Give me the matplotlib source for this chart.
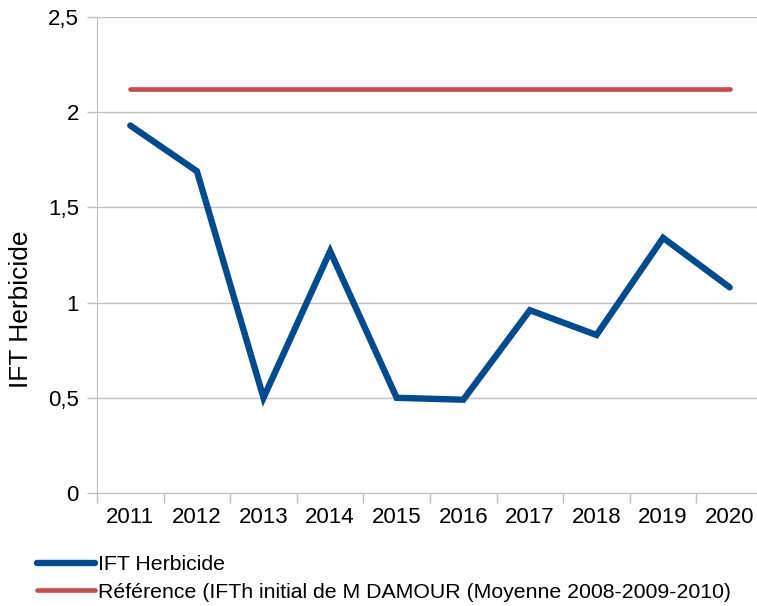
import matplotlib.pyplot as plt
from matplotlib.ticker import FixedLocator

plt.rcParams['font.family'] = ['Liberation Sans', 'DejaVu Sans']

years = ['2011', '2012', '2013', '2014', '2015', '2016', '2017', '2018', '2019', '2020']
ift_herbicide = [1.93, 1.69, 0.50, 1.27, 0.50, 0.49, 0.96, 0.83, 1.34, 1.08]
reference = [2.12] * len(years)
yticks = [0, 0.5, 1, 1.5, 2, 2.5]
ytick_labels = ['0', '0,5', '1', '1,5', '2', '2,5']

BLUE = '#004b8d'
RED = '#c0504d'
GRID = '#bfbfbf'

fig = plt.figure(figsize=(7.57, 6.06), dpi=100)
# plot area runs slightly off the right edge, as in the original
ax = fig.add_axes([97 / 757, 1 - 493 / 606, 666 / 757, 476 / 606])

x = list(range(len(years)))
ax.plot(x, ift_herbicide, color=BLUE, lw=4.6, solid_capstyle='round',
        solid_joinstyle='miter', label='IFT Herbicide', zorder=3)
ax.plot(x, reference, color=RED, lw=3.4, solid_capstyle='round',
        label='Référence (IFTh initial de M DAMOUR (Moyenne 2008-2009-2010)', zorder=3)

ax.set_xlim(-0.5, len(years) - 0.5)
ax.set_ylim(0, 2.5)
ax.set_yticks(yticks)
ax.set_yticklabels(ytick_labels)
ax.set_xticks(x)
ax.set_xticklabels(years)
ax.xaxis.set_minor_locator(FixedLocator([i - 0.5 for i in range(len(years) + 1)]))
ax.tick_params(axis='x', which='major', length=0, pad=10, labelsize=16)
ax.tick_params(axis='x', which='minor', length=7, color=GRID, width=1)
ax.tick_params(axis='y', length=7, color=GRID, width=1, pad=6, labelsize=16)

ax.grid(axis='y', color=GRID, lw=1)
ax.set_axisbelow(True)
for s in ['top', 'right']:
    ax.spines[s].set_visible(False)
ax.spines['left'].set_color(GRID)
ax.spines['bottom'].set_color(GRID)

ax.set_ylabel('IFT Herbicide', fontsize=19)
ax.yaxis.set_label_coords(-0.096, 0.387)

fig.legend(loc='upper left', bbox_to_anchor=(37 / 757, 1 - 555 / 606), frameon=False,
           fontsize=15.3, handlelength=2.75, handletextpad=0.1, labelspacing=0.42,
           borderaxespad=0.0, borderpad=0.0)

fig.savefig('out.png', dpi=100)
